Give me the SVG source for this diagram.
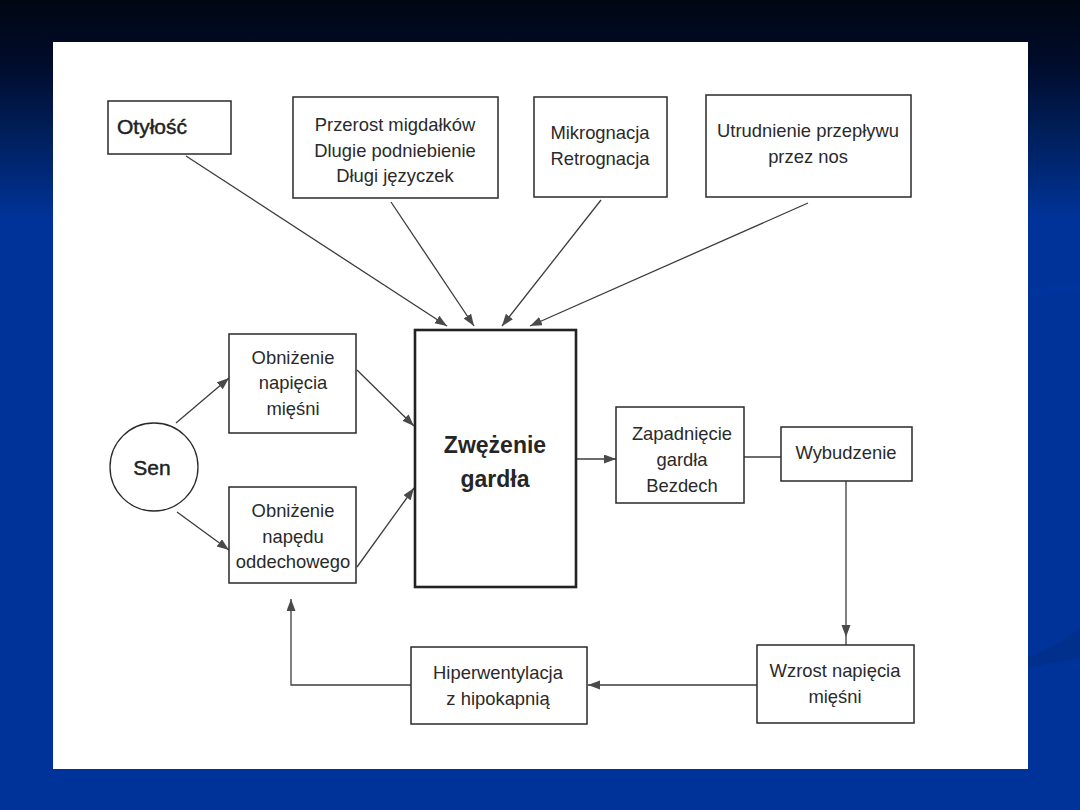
<svg xmlns="http://www.w3.org/2000/svg" width="1080" height="810" viewBox="0 0 1080 810">
<defs>
<linearGradient id="bg" x1="0" y1="0" x2="0" y2="1">
<stop offset="0" stop-color="#000612"/>
<stop offset="0.08" stop-color="#000c2c"/>
<stop offset="0.17" stop-color="#00205e"/>
<stop offset="0.27" stop-color="#003399"/>
<stop offset="1" stop-color="#003399"/>
</linearGradient>
<marker id="ah" markerUnits="userSpaceOnUse" markerWidth="13" markerHeight="10" refX="12" refY="4.5" orient="auto">
<path d="M0,0 L12,4.5 L0,9 z" fill="#4a4a4a"/>
</marker>
<style>
.box{fill:#fff;stroke:#2a2a2a;stroke-width:1.5}
.big{fill:#fff;stroke:#222;stroke-width:2.6}
.t{font-family:"Liberation Sans",Arial,sans-serif;font-size:18.4px;fill:#2a2a2a;text-anchor:middle}
.tm{font-family:"Liberation Sans",Arial,sans-serif;font-size:21px;fill:#222;stroke:#222;stroke-width:0.45}
.tb{font-family:"Liberation Sans",Arial,sans-serif;font-weight:bold;fill:#262626}
.c{fill:none;stroke:#3c3c3c;stroke-width:1.3}
</style>
</defs>
<rect width="1080" height="810" fill="url(#bg)"/>
<path d="M1028,657 Q1055,648 1080,628 L1080,658 Q1055,662 1028,668 z" fill="#00308c"/>
<path d="M1028,290 Q1055,286 1080,281 L1080,292 Q1055,294 1028,296 z" fill="#00369e" opacity="0.6"/>
<rect x="53" y="42" width="975" height="727" fill="#fff"/>

<g id="connectors">
<path class="c" d="M186,156 L447,326" marker-end="url(#ah)"/>
<path class="c" d="M391,202 L474,326" marker-end="url(#ah)"/>
<path class="c" d="M601,200 L502,326" marker-end="url(#ah)"/>
<path class="c" d="M808,203 L530,326" marker-end="url(#ah)"/>
<path class="c" d="M176,423 L229,378" marker-end="url(#ah)"/>
<path class="c" d="M177,512 L229,550" marker-end="url(#ah)"/>
<path class="c" d="M357,370 L414,426" marker-end="url(#ah)"/>
<path class="c" d="M357,567 L414,488" marker-end="url(#ah)"/>
<path class="c" d="M576,459 L616,459" marker-end="url(#ah)"/>
<path class="c" d="M744,457 L781,457"/>
<path class="c" d="M846,481 L846,637" marker-end="url(#ah)"/>
<path class="c" d="M846,637 L846,645"/>
<path class="c" d="M757,685 L588,685" marker-end="url(#ah)"/>
<path class="c" d="M411,685 L291,685 L291,599" marker-end="url(#ah)"/>
</g>

<g id="otylosc">
<rect class="box" x="108" y="101" width="123" height="53"/>
<text class="tm" x="117" y="134">Otyłość</text>
</g>
<g id="przerost">
<rect class="box" x="293" y="97" width="205" height="101"/>
<text class="t" x="395" y="131">Przerost migdałków</text>
<text class="t" x="395" y="157">Dlugie podniebienie</text>
<text class="t" x="395" y="182">Długi języczek</text>
</g>
<g id="mikrognacja">
<rect class="box" x="534" y="97" width="133" height="100"/>
<text class="t" x="600" y="139">Mikrognacja</text>
<text class="t" x="600" y="165">Retrognacja</text>
</g>
<g id="utrudnienie">
<rect class="box" x="706" y="95" width="205" height="102"/>
<text class="t" x="808" y="137">Utrudnienie przepływu</text>
<text class="t" x="808" y="163">przez nos</text>
</g>
<g id="zwezenie">
<rect class="big" x="415" y="330" width="161" height="257"/>
<text class="tb" x="495" y="453" font-size="23" text-anchor="middle">Zwężenie</text>
<text class="tb" x="495" y="487" font-size="23" text-anchor="middle">gardła</text>
</g>
<g id="obnizenie-napiecia">
<rect class="box" x="229" y="334" width="127" height="99"/>
<text class="t" x="293" y="364">Obniżenie</text>
<text class="t" x="293" y="389">napięcia</text>
<text class="t" x="293" y="415">mięśni</text>
</g>
<g id="obnizenie-napedu">
<rect class="box" x="229" y="487" width="127" height="96"/>
<text class="t" x="293" y="517">Obniżenie</text>
<text class="t" x="293" y="543">napędu</text>
<text class="t" x="293" y="568">oddechowego</text>
</g>
<g id="sen">
<circle cx="154" cy="467" r="44" fill="#fff" stroke="#2a2a2a" stroke-width="1.3"/>
<text class="tm" x="152" y="475" text-anchor="middle">Sen</text>
</g>
<g id="zapadniecie">
<rect class="box" x="616" y="407" width="128" height="96"/>
<text class="t" x="682" y="440">Zapadnięcie</text>
<text class="t" x="682" y="466">gardła</text>
<text class="t" x="682" y="492">Bezdech</text>
</g>
<g id="wybudzenie">
<rect class="box" x="781" y="427" width="131" height="54"/>
<text class="t" x="846" y="459">Wybudzenie</text>
</g>
<g id="wzrost">
<rect class="box" x="757" y="645" width="157" height="78"/>
<text class="t" x="835" y="677">Wzrost napięcia</text>
<text class="t" x="835" y="703">mięśni</text>
</g>
<g id="hiperwentylacja">
<rect class="box" x="411" y="647" width="176" height="77"/>
<text class="t" x="498" y="679">Hiperwentylacja</text>
<text class="t" x="498" y="705">z hipokapnią</text>
</g>
</svg>
